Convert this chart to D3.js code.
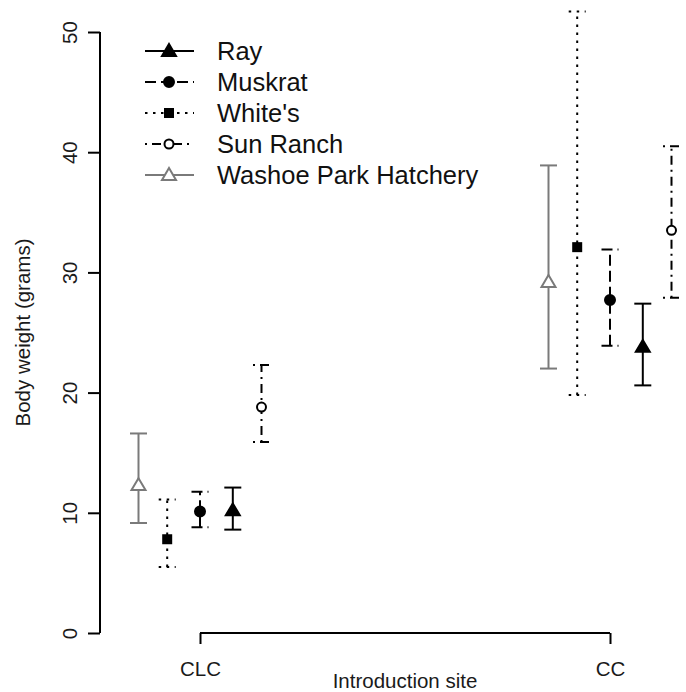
<!DOCTYPE html>
<html>
<head>
<meta charset="utf-8">
<script src="https://cdn.jsdelivr.net/npm/d3@7"></script>
<style>
  html, body { margin: 0; padding: 0; background: #fff; }
  svg { display: block; font-family: "Liberation Sans", Arial, sans-serif; }
</style>
</head>
<body>
<svg id="chart" width="686" height="692"></svg>
<script>
// ---- data ----
const sites = ["CLC", "CC"];
const seriesNames = ["Ray", "Muskrat", "White's", "Sun Ranch", "Washoe Park Hatchery"];
const rayMean = [10.2, 23.8];
const rayLow = [8.6, 20.6];
const rayHigh = [12.1, 27.4];
const muskratMean = [10.1, 27.7];
const muskratLow = [8.8, 23.9];
const muskratHigh = [11.75, 31.9];
const whitesMean = [7.8, 32.1];
const whitesLow = [5.5, 19.8];
const whitesHigh = [11.1, 51.7];
const sunMean = [18.8, 33.5];
const sunLow = [15.9, 27.9];
const sunHigh = [22.3, 40.5];
const washoeMean = [12.3, 29.2];
const washoeLow = [9.15, 22.0];
const washoeHigh = [16.6, 38.9];
const yTicks = [0, 10, 20, 30, 40, 50];

// ---- styles ----
const styles = [
  { color: "#000", dash: null, marker: "triangle", fill: true, dodge: 0.08 },
  { color: "#000", dash: "11,5", marker: "circle", fill: true, dodge: 0 },
  { color: "#000", dash: "2.5,5.5", marker: "square", fill: true, dodge: -0.08 },
  { color: "#000", dash: "2,5,9,5", marker: "circle", fill: false, dodge: 0.15 },
  { color: "#7a7a7a", dash: null, marker: "triangle", fill: false, dodge: -0.15 }
];
const seriesData = [
  [rayMean, rayLow, rayHigh],
  [muskratMean, muskratLow, muskratHigh],
  [whitesMean, whitesLow, whitesHigh],
  [sunMean, sunLow, sunHigh],
  [washoeMean, washoeLow, washoeHigh]
];

const svg = d3.select("#chart");
const y = d3.scaleLinear().domain([0, 50]).range([633, 32]);
const x = d3.scaleLinear().domain([0, 1]).range([200, 610]);
const axisX = 100;
const axisFont = 20.5;

// y axis
const yAxis = d3.axisLeft(y).tickValues(yTicks).tickSize(12).tickPadding(0).tickFormat(d3.format("d"));
const gy = svg.append("g").attr("transform", `translate(${axisX},0)`).call(yAxis);
gy.select(".domain").attr("d", `M0,${y(0)}V${y(50)}`).attr("stroke", "#000").attr("stroke-width", 2);
gy.selectAll(".tick line").attr("stroke", "#000").attr("stroke-width", 2);
gy.selectAll(".tick text")
  .attr("x", null).attr("dy", null)
  .attr("transform", "translate(-23,0) rotate(-90)")
  .attr("text-anchor", "middle")
  .attr("font-size", axisFont).attr("fill", "#1a1a1a")
  .attr("font-family", "Liberation Sans, Arial, sans-serif");

// x axis
const xAxis = d3.axisBottom(x).tickValues([0, 1]).tickSize(11).tickPadding(0).tickFormat(i => sites[i]);
const gx = svg.append("g").attr("transform", `translate(0,${y(0)})`).call(xAxis);
gx.select(".domain").attr("d", `M${x(0)},0H${x(1)}`).attr("stroke", "#000").attr("stroke-width", 2);
gx.selectAll(".tick line").attr("stroke", "#000").attr("stroke-width", 2);
gx.selectAll(".tick text")
  .attr("y", 43).attr("dy", null)
  .attr("font-size", axisFont).attr("fill", "#1a1a1a")
  .attr("font-family", "Liberation Sans, Arial, sans-serif");

// axis titles
svg.append("text").attr("x", x(0.5)).attr("y", 688).attr("text-anchor", "middle")
  .attr("font-size", axisFont).attr("fill", "#1a1a1a").text("Introduction site");
svg.append("text").attr("transform", `translate(30,${(y(0) + y(50)) / 2}) rotate(-90)`)
  .attr("text-anchor", "middle").attr("font-size", axisFont).attr("fill", "#1a1a1a").text("Body weight (grams)");

// marker drawing
function drawMarker(g, type, cx, cy, st) {
  const sw = 2;
  if (type === "triangle") {
    const s = 7;
    g.append("path")
      .attr("d", `M${cx},${cy - s}L${cx + s},${cy + s * 0.7}L${cx - s},${cy + s * 0.7}Z`)
      .attr("fill", st.fill ? st.color : "#fff").attr("stroke", st.color).attr("stroke-width", sw);
  } else if (type === "circle") {
    g.append("circle").attr("cx", cx).attr("cy", cy).attr("r", st.fill ? 5 : 4.5)
      .attr("fill", st.fill ? st.color : "#fff").attr("stroke", st.color).attr("stroke-width", sw);
  } else if (type === "square") {
    g.append("rect").attr("x", cx - 5).attr("y", cy - 5).attr("width", 10).attr("height", 10)
      .attr("fill", st.color);
  }
}

// error bars
const capHalf = 8.5;
seriesData.forEach((sd, si) => {
  const st = styles[si];
  const g = svg.append("g");
  sites.forEach((site, i) => {
    const cx = x(i + st.dodge);
    const lo = y(sd[1][i]), hi = y(sd[2][i]), m = y(sd[0][i]);
    const line = (x1, y1, x2, y2) => g.append("line")
      .attr("x1", x1).attr("y1", y1).attr("x2", x2).attr("y2", y2)
      .attr("stroke", st.color).attr("stroke-width", 2)
      .attr("stroke-dasharray", st.dash);
    line(cx, lo, cx, hi);
    line(cx - capHalf, lo, cx + capHalf, lo);
    line(cx - capHalf, hi, cx + capHalf, hi);
    drawMarker(g, st.marker, cx, m, st);
  });
});

// legend
const lg = svg.append("g");
seriesNames.forEach((name, i) => {
  const st = styles[i];
  const cy = 51 + i * 31;
  const g = lg.append("g");
  g.append("line").attr("x1", 145).attr("x2", 194).attr("y1", cy).attr("y2", cy)
    .attr("stroke", st.color).attr("stroke-width", 2).attr("stroke-dasharray", st.dash);
  drawMarker(g, st.marker, 169, cy, st);
  g.append("text").attr("x", 217).attr("y", cy + 9).attr("font-size", 25.5).attr("fill", "#111").text(name);
});
</script>
</body>
</html>
